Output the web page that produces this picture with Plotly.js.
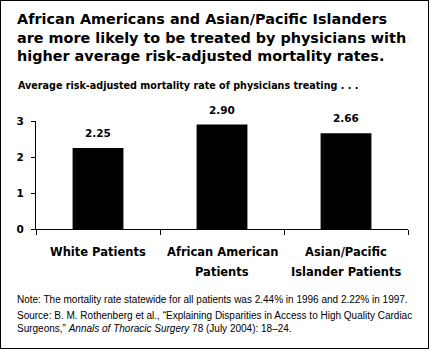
<!DOCTYPE html>
<html>
<head>
<meta charset="utf-8">
<script src="https://cdn.plot.ly/plotly-3.0.1.min.js"></script>
<style>
  html, body { margin: 0; padding: 0; background: #fff; }
  #wrap { position: relative; width: 429px; height: 349px; }
  #chart { width: 429px; height: 349px; }
  #frame { position: absolute; left: 0; top: 0; width: 429px; height: 349px; box-sizing: border-box; border: 1.5px solid #000; pointer-events: none; }
</style>
</head>
<body>
<div id="wrap"><div id="chart"></div><div id="frame"></div></div>
<script>
// ---- data ----
const categories = ["White Patients", "African American Patients", "Asian/Pacific Islander Patients"];
const labelLine1 = ["White Patients", "African American", "Asian/Pacific"];
const labelLine2 = ["", "Patients", "Islander Patients"];
const values = [2.25, 2.90, 2.66];
const yTicks = [0, 1, 2, 3];

const titleText = "African Americans and Asian/Pacific Islanders<br>are more likely to be treated by physicians with<br>higher average risk-adjusted mortality rates.";
const subtitleText = "Average risk-adjusted mortality rate of physicians treating . . .";
const noteText = "Note: The mortality rate statewide for all patients was 2.44% in 1996 and 2.22% in 1997.";
const sourceText = "Source: B. M. Rothenberg et al., \u201cExplaining Disparities in Access to High Quality Cardiac<br>Surgeons,\u201d <i>Annals of Thoracic Surgery</i> 78 (July 2004): 18\u201324.";

// ---- layout geometry ----
const W = 429, H = 349;
const M = { l: 36, r: 21, t: 121, b: 120 };
const PW = W - M.l - M.r, PH = H - M.t - M.b;
const px = x => (x - M.l) / PW;          // pixel x -> paper x
const py = y => (H - M.b - y) / PH;      // pixel y -> paper y

const BOLD = "DejaVu Sans";
const REG = "Liberation Sans, Arial, sans-serif";

const annotations = [];
// main title
annotations.push({
  x: px(15), y: py(9), xref: "paper", yref: "paper",
  xanchor: "left", yanchor: "top", showarrow: false, align: "left",
  text: titleText,
  font: { family: BOLD, size: 14.4, color: "#000", weight: "bold" }
});
// value labels
values.forEach((v, i) => {
  annotations.push({
    x: categories[i], y: v, xref: "x", yref: "y",
    text: v.toFixed(2), showarrow: false,
    yanchor: "middle", yshift: 15,
    font: { family: BOLD, size: 10.5, color: "#000", weight: "bold" }
  });
});
// category labels (two lines each)
categories.forEach((c, i) => {
  annotations.push({
    x: c, y: py(252), xref: "x", yref: "paper",
    text: labelLine1[i], showarrow: false, yanchor: "middle",
    font: { family: BOLD, size: 11.5, color: "#000", weight: "bold" }
  });
  if (labelLine2[i]) {
    annotations.push({
      x: c, y: py(272), xref: "x", yref: "paper",
      text: labelLine2[i], showarrow: false, yanchor: "middle",
      font: { family: BOLD, size: 11.5, color: "#000", weight: "bold" }
    });
  }
});
// subtitle
annotations.push({
  x: px(16), y: py(85), xref: "paper", yref: "paper",
  xanchor: "left", yanchor: "middle", showarrow: false,
  text: subtitleText,
  font: { family: BOLD, size: 9.6, color: "#000", weight: "bold" }
});
// note
annotations.push({
  x: px(15), y: py(299), xref: "paper", yref: "paper",
  xanchor: "left", yanchor: "middle", showarrow: false, align: "left",
  text: noteText,
  font: { family: REG, size: 10, color: "#000" }
});
annotations.push({
  x: px(15), y: py(307.5), xref: "paper", yref: "paper",
  xanchor: "left", yanchor: "top", showarrow: false, align: "left",
  text: sourceText,
  font: { family: REG, size: 10, color: "#000" }
});

const trace = {
  type: "bar",
  x: categories,
  y: values,
  marker: { color: "#000", line: { width: 0 } },
  width: 0.41,
  hoverinfo: "none"
};

const layout = {
  width: W, height: H,
  margin: M,
  paper_bgcolor: "#fff", plot_bgcolor: "#fff",
  showlegend: false,
  xaxis: {
    type: "category",
    range: [-0.5, 2.5],
    showline: true, linecolor: "#000", linewidth: 1,
    ticks: "outside", tickson: "boundaries", ticklen: 5, tickcolor: "#000", tickwidth: 1,
    showticklabels: false, showgrid: false, zeroline: false, fixedrange: true
  },
  yaxis: {
    range: [0, 3],
    tickvals: yTicks,
    ticktext: yTicks.map(String),
    showline: true, linecolor: "#000", linewidth: 1,
    ticks: "outside", ticklen: 4, tickcolor: "#000", tickwidth: 1,
    ticklabelstandoff: 5,
    tickfont: { family: BOLD, size: 10.5, color: "#000", weight: "bold" },
    showgrid: false, zeroline: false, fixedrange: true
  },
  annotations: annotations
};

Plotly.newPlot("chart", [trace], layout, { staticPlot: true, displayModeBar: false });
</script>
</body>
</html>
